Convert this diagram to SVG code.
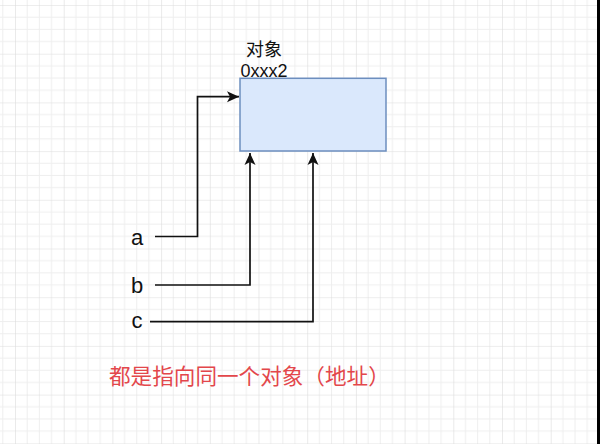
<svg xmlns="http://www.w3.org/2000/svg" width="600" height="444" viewBox="0 0 600 444">
<style>
.lbl{font-family:"Liberation Sans","Noto Sans CJK SC",sans-serif;fill:#111}
.conn{fill:none;stroke:#111;stroke-width:1.7;marker-end:url(#arr)}
</style>
<defs>
<pattern id="grid" patternUnits="userSpaceOnUse" x="15" y="5" width="48.7" height="48.7">
<path d="M12.175,0V48.7M24.35,0V48.7M36.525,0V48.7M0,12.175H48.7M0,24.35H48.7M0,36.525H48.7" stroke="#eeeeee" stroke-width="1"/>
<path d="M0,0V48.7M0,0H48.7" stroke="#dcdcdc" stroke-width="1.2"/>
</pattern>
<marker id="arr" markerUnits="userSpaceOnUse" viewBox="-13 -7 14 14" markerWidth="14" markerHeight="14" refX="0" refY="0" orient="auto">
<path d="M0,0L-12,-5.5L-9,0L-12,5.5Z" fill="#111"/>
</marker>
</defs>
<rect width="600" height="444" fill="#ffffff"/>
<rect width="600" height="444" fill="url(#grid)"/>
<rect x="597" y="0" width="3" height="444" fill="#000"/>
<g id="connectors">
<path class="conn" d="M155,236.5H197.5V96.7H239"/>
<path class="conn" d="M155,285H250V153"/>
<path class="conn" d="M150,321.7H313V153"/>
</g>
<g id="object">
<rect x="240" y="78.3" width="146" height="72.7" fill="#dae8fc" stroke="#6c8ebf" stroke-width="1.5"/>
<text class="lbl" x="264" y="56" font-size="18" text-anchor="middle">对象</text>
<text class="lbl" x="264" y="76.5" font-size="18" text-anchor="middle">0xxx2</text>
</g>
<g id="a"><text class="lbl" x="137" y="244.5" font-size="22" text-anchor="middle">a</text></g>
<g id="b"><text class="lbl" x="137" y="292.5" font-size="22" text-anchor="middle">b</text></g>
<g id="c"><text class="lbl" x="137" y="327.5" font-size="22" text-anchor="middle">c</text></g>
<g id="note"><text x="109" y="383.5" font-size="21.6" fill="#e3474b" font-family="'Noto Sans CJK SC','Liberation Sans',sans-serif">都是指向同一个对象（地址）</text></g>
</svg>
